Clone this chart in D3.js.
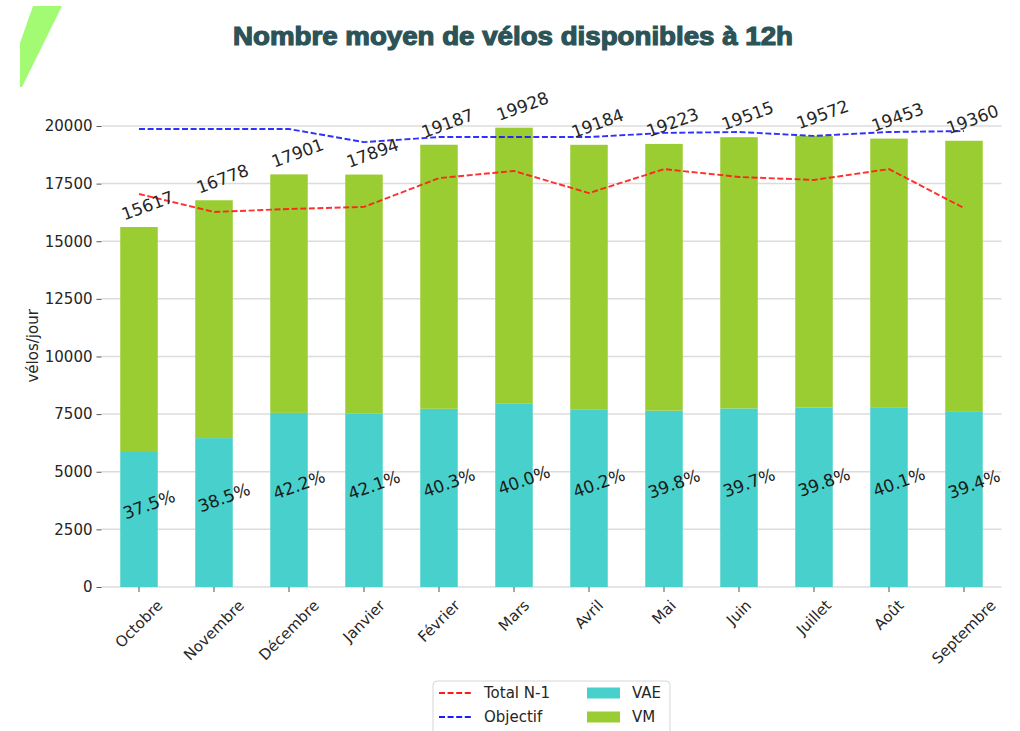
<!DOCTYPE html>
<html>
<head>
<meta charset="utf-8">
<script src="https://cdn.jsdelivr.net/npm/d3@7"></script>
<style>
  html, body { margin: 0; padding: 0; background: #fff; }
  svg { display: block; }
  text { font-family: "DejaVu Sans", sans-serif; }
</style>
</head>
<body>
<svg id="chart" width="1020" height="731"></svg>
<script>
const months = ["Octobre","Novembre","Décembre","Janvier","Février","Mars","Avril","Mai","Juin","Juillet","Août","Septembre"];
const totals = [15617,16778,17901,17894,19187,19928,19184,19223,19515,19572,19453,19360];
const vaePct = ["37.5%","38.5%","42.2%","42.1%","40.3%","40.0%","40.2%","39.8%","39.7%","39.8%","40.1%","39.4%"];
const vae = [5856,6460,7554,7533,7732,7971,7712,7651,7747,7790,7801,7628];
const totalN1 = [17050,16270,16400,16490,17740,18050,17090,18130,17790,17660,18130,16440];
const objectif = [19870,19870,19870,19300,19520,19520,19520,19700,19740,19570,19740,19780];
const yTicks = [0,2500,5000,7500,10000,12500,15000,17500,20000];
const vm = totals.map((t,i) => t - vae[i]);

const svg = d3.select("#chart");
const pLeft = 101.5, pRight = 1001.5, pTop = 104.7, pBottom = 587;

const x = d3.scaleBand().domain(months).range([pLeft, pRight]).paddingInner(0.5).paddingOuter(0.25);
const y = d3.scaleLinear().domain([0, 20924]).range([pBottom, pTop]);

// decorative shape
svg.append("polygon")
  .attr("points", "33,6 62,6 22,87 20,87 20,43")
  .attr("fill", "#a2fb72");

// title
svg.append("text")
  .attr("x", 513).attr("y", 45)
  .attr("text-anchor", "middle")
  .attr("textLength", 560).attr("lengthAdjust", "spacingAndGlyphs")
  .style("font-family", "'Liberation Sans', Arial, sans-serif")
  .style("font-weight", "bold")
  .style("font-size", "26px")
  .attr("fill", "#2c5357")
  .attr("stroke", "#2c5357").attr("stroke-width", 1.2)
  .text("Nombre moyen de vélos disponibles à 12h");

// grid
svg.append("g").selectAll("line").data(yTicks).join("line")
  .attr("x1", pLeft).attr("x2", pRight)
  .attr("y1", d => y(d)).attr("y2", d => y(d))
  .attr("stroke", "#dcdcdc").attr("stroke-width", 1.5);

// y axis
const yAxis = svg.append("g").attr("transform", `translate(${pLeft},0)`)
  .call(d3.axisLeft(y).tickValues(yTicks).tickFormat(d3.format("d")).tickSize(5).tickPadding(4));
yAxis.select(".domain").remove();
yAxis.selectAll(".tick line").attr("stroke", "#555").attr("stroke-width", 1);
yAxis.selectAll(".tick text").style("font-size", "15px").attr("fill", "#262626");

// x axis
const xAxis = svg.append("g").attr("transform", `translate(0,${pBottom})`)
  .call(d3.axisBottom(x).tickSize(5).tickFormat(""));
xAxis.select(".domain").remove();
xAxis.selectAll(".tick line").attr("stroke", "#555");

// bars
const g = svg.append("g");
g.selectAll("rect.vae").data(months).join("rect")
  .attr("class","vae")
  .attr("x", d => x(d)).attr("width", x.bandwidth())
  .attr("y", (d,i) => y(vae[i])).attr("height", (d,i) => y(0) - y(vae[i]))
  .attr("fill", "#48d1cc");
g.selectAll("rect.vm").data(months).join("rect")
  .attr("class","vm")
  .attr("x", d => x(d)).attr("width", x.bandwidth())
  .attr("y", (d,i) => y(vae[i] + vm[i])).attr("height", (d,i) => y(vae[i]) - y(vae[i] + vm[i]))
  .attr("fill", "#9acd32");

// lines
const cx = d => x(d) + x.bandwidth()/2;
const line = arr => d3.line().x((d,i) => cx(months[i])).y(d => y(d))(arr);
svg.append("path").attr("d", line(totalN1))
  .attr("fill","none").attr("stroke","#ff1a1a").attr("stroke-width",1.9)
  .attr("stroke-dasharray","6,2.6").attr("opacity",0.9);
svg.append("path").attr("d", line(objectif))
  .attr("fill","none").attr("stroke","#1a1aff").attr("stroke-width",1.9)
  .attr("stroke-dasharray","6,2.6").attr("opacity",0.9);

// value labels
svg.append("g").selectAll("text").data(months).join("text")
  .attr("transform", (d,i) => `translate(${cx(d)+8.5},${y(totals[i])-21.5}) rotate(-20)`)
  .attr("text-anchor","middle").attr("dominant-baseline","central")
  .style("font-size","17px").attr("fill","#262626")
  .text((d,i) => totals[i]);

// pct labels
svg.append("g").selectAll("text").data(months).join("text")
  .attr("transform", (d,i) => `translate(${cx(d)+10},${y(vae[i]/2)-15}) rotate(-20)`)
  .attr("text-anchor","middle").attr("dominant-baseline","central")
  .style("font-size","17px").attr("fill","#1a1a1a")
  .text((d,i) => vaePct[i]);

// x labels rotated 45
const xl = svg.append("g");
months.forEach(m => {
  const t = xl.append("text")
    .attr("text-anchor","middle").attr("dominant-baseline","central")
    .style("font-size","15px").attr("fill","#262626").text(m);
  const L = t.node().getComputedTextLength();
  const h = 11;
  const cy = 599 + (L*Math.SQRT1_2 + h*Math.SQRT1_2)/2;
  t.attr("transform", `translate(${cx(m)},${cy}) rotate(-45)`);
});

// y label
svg.append("text")
  .attr("transform", `translate(33,${(pTop+pBottom)/2}) rotate(-90)`)
  .attr("text-anchor","middle").attr("dominant-baseline","central")
  .style("font-size","15px").attr("fill","#262626")
  .text("vélos/jour");

// legend
const lg = svg.append("g");
lg.append("rect").attr("x",433).attr("y",681).attr("width",237).attr("height",60)
  .attr("rx",4).attr("fill","#fff").attr("stroke","#d6d6d6").attr("stroke-width",1);
const legLines = [{label:"Total N-1", color:"#ff1a1a", y:693},{label:"Objectif", color:"#1a1aff", y:717}];
legLines.forEach(l => {
  lg.append("line").attr("x1",439).attr("x2",472).attr("y1",l.y).attr("y2",l.y)
    .attr("stroke",l.color).attr("stroke-width",1.8).attr("stroke-dasharray","6,2.6");
  lg.append("text").attr("x",484).attr("y",l.y).attr("dominant-baseline","central")
    .style("font-size","15px").attr("fill","#262626").text(l.label);
});
const legPatches = [{label:"VAE", color:"#48d1cc", y:693},{label:"VM", color:"#9acd32", y:717}];
legPatches.forEach(l => {
  lg.append("rect").attr("x",587).attr("y",l.y-5.5).attr("width",33).attr("height",11).attr("fill",l.color);
  lg.append("text").attr("x",632).attr("y",l.y).attr("dominant-baseline","central")
    .style("font-size","15px").attr("fill","#262626").text(l.label);
});
</script>
</body>
</html>
